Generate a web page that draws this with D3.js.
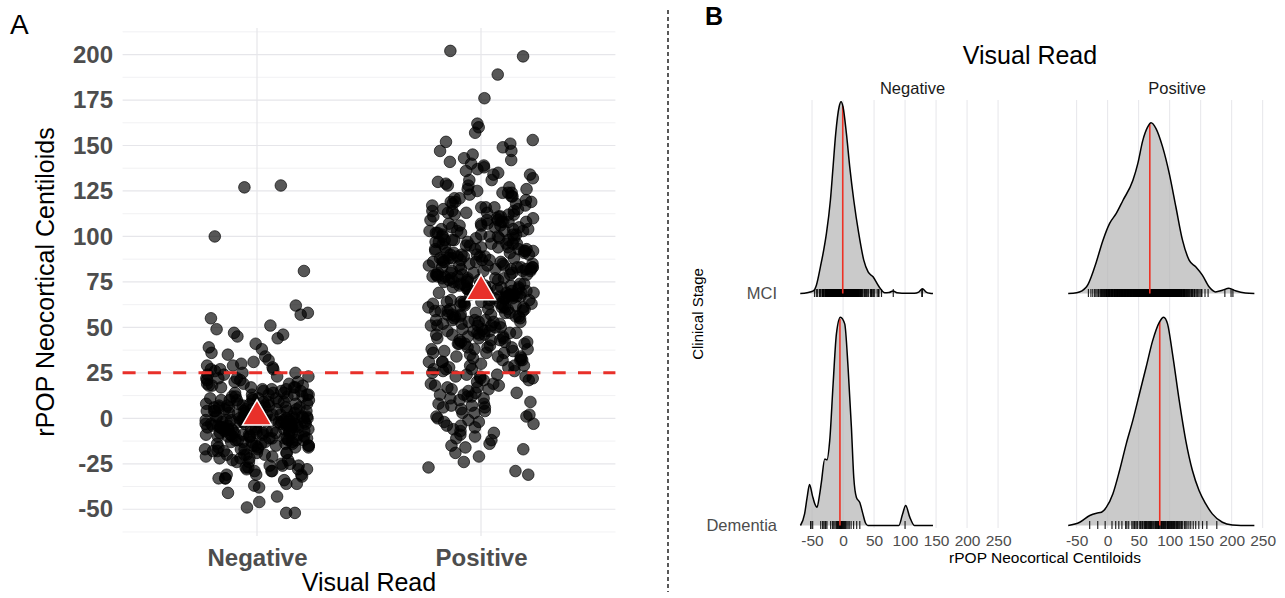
<!DOCTYPE html>
<html>
<head>
<meta charset="utf-8">
<script src="https://cdn.jsdelivr.net/npm/d3@7"></script>
<style>
  body { margin: 0; background: #fff; }
  svg { display: block; }
</style>
</head>
<body>
<script>
var FONT = '"Liberation Sans", Arial, Helvetica, sans-serif';

var categories = ["Negative", "Positive"];
var stages = ["MCI", "Dementia"];
var yTicksA = [-50, -25, 0, 25, 50, 75, 100, 125, 150, 175, 200];
var xTicksB = [-50, 0, 50, 100, 150, 200, 250];
var cutoff = 25;

var negMCI = [-46, -43, -41, -38, -37, -36, -34, -33, -33, -32, -31, -31,
  -29, -29, -28, -28, -27, -27, -26, -26, -25, -25,
  -24, -24, -23, -23, -22, -22, -22, -21, -21, -20, -20, -20,
  -19, -19, -19, -18, -18, -18, -17, -17, -17, -16, -16, -16, -16, -15, -15, -15, -15,
  -14, -14, -14, -14, -13, -13, -13, -13, -12, -12, -12, -12, -12, -11, -11, -11, -11, -10, -10, -10, -10, -10,
  -9, -9, -9, -9, -9, -8, -8, -8, -8, -8, -8, -7, -7, -7, -7, -7, -6, -6, -6, -6, -6, -6, -5, -5, -5, -5, -5,
  -4, -4, -4, -4, -4, -4, -3, -3, -3, -3, -3, -3, -2, -2, -2, -2, -2, -2, -1, -1, -1, -1, -1, -1, 0, 0, 0, 0, 0,
  1, 1, 1, 1, 1, 1, 2, 2, 2, 2, 2, 2, 3, 3, 3, 3, 3, 4, 4, 4, 4, 4, 5, 5, 5, 5, 5,
  6, 6, 6, 6, 6, 7, 7, 7, 7, 7, 8, 8, 8, 8, 9, 9, 9, 9, 10, 10, 10, 10,
  11, 11, 11, 11, 12, 12, 12, 12, 13, 13, 13, 13, 14, 14, 14, 15, 15, 15,
  16, 16, 16, 17, 17, 17, 18, 18, 18, 19, 19, 19, 20, 20,
  21, 21, 22, 22, 23, 23, 24, 24, 25, 25,
  26, 27, 27, 28, 29, 29, 30, 31, 32, 34, 35, 36, 38, 39,
  41, 44, 45, 46, 47, 49, 51, 55, 57, 58, 62, 81, 127, 128];

var negDementia = [-52, -52, -49, -36, -33, -31, -29, -28, -26, -20, -17, -15, -13, -11, -10,
  -9, -8, -7, -6, -5, -5, -4, -3, -3, -2, -1, 0, 1, 2, 3, 4, 6, 8, 10, 13, 17, 22, 27, 100];

var posMCI = [-31, -27, -24, -21, -19, -17, -15, -14, -12, -11, -10, -9, -8, -7, -6, -5, -4, -3, -2, -2, -1, 0,
  1, 1, 2, 3, 3, 4, 5, 6, 6, 7, 8, 8, 9, 10,
  11, 11, 12, 12, 13, 14, 14, 15, 16, 16, 17, 17, 18, 19, 19, 20,
  21, 21, 22, 22, 23, 23, 24, 24, 25, 26, 26, 27, 27, 27, 28, 28, 29, 29, 30,
  31, 31, 32, 32, 32, 33, 33, 34, 34, 35, 36, 36, 36, 37, 37, 38, 38, 38, 39, 39, 40,
  41, 41, 41, 42, 42, 42, 43, 43, 44, 44, 45, 45,
  46, 46, 46, 47, 47, 47, 48, 48, 48, 49, 49, 50, 50,
  51, 51, 51, 52, 52, 52, 53, 53, 53, 54, 54, 54, 55, 55,
  56, 56, 56, 57, 57, 57, 58, 58, 58, 59, 59, 59, 60, 60, 60,
  61, 61, 61, 62, 62, 62, 63, 63, 63, 63, 64, 64, 64, 65, 65, 65,
  66, 66, 66, 67, 67, 67, 67, 68, 68, 68, 69, 69, 69, 69, 70, 70, 70,
  71, 71, 71, 71, 72, 72, 72, 73, 73, 73, 73, 74, 74, 74, 75, 75, 75,
  76, 76, 76, 77, 77, 77, 77, 78, 78, 78, 79, 79, 79, 79, 80, 80, 80,
  81, 81, 81, 82, 82, 82, 83, 83, 83, 83, 84, 84, 84, 85, 85, 85,
  86, 86, 86, 87, 87, 87, 88, 88, 88, 89, 89, 89, 90, 90, 90,
  91, 91, 91, 92, 92, 92, 93, 93, 93, 94, 94, 94, 95, 95,
  96, 96, 96, 97, 97, 98, 98, 98, 99, 99, 100, 100,
  101, 101, 101, 102, 102, 103, 103, 103, 104, 104, 105, 105,
  106, 106, 107, 107, 108, 108, 108, 109, 109, 110, 110,
  111, 111, 112, 112, 113, 113, 114, 114, 115, 115,
  116, 116, 117, 117, 118, 119, 119, 120,
  121, 122, 122, 123, 124, 124, 125,
  126, 127, 128, 129, 130, 131, 132, 134, 135, 136, 137, 139, 140,
  141, 143, 145, 147, 149, 151, 152, 157, 162, 189, 199, 202];

var posDementia = [-29, -16, -4, 7, 13, 18, 23, 29, 31, 34, 39, 41, 43, 44, 46, 48, 51, 53, 54,
  56, 57, 59, 60, 61, 62, 63, 64, 66, 67, 68, 69, 70, 71, 72, 74,
  76, 77, 78, 79, 80, 81, 82, 82, 83, 84, 86, 86, 87, 88, 89, 90, 91, 92, 93, 94, 96, 96, 97, 98, 99,
  100, 101, 102, 103, 104, 105, 106, 107, 108, 109,
  111, 112, 113, 114, 116, 118, 119,
  121, 124, 126, 128, 131, 134,
  138, 142, 147, 153, 160, 176];

// ridge outlines: [centiloid, height in ridge units]
var ridgeNegMCI = [[-69, 0], [-58, 0.003], [-48, 0.011], [-43, 0.036], [-36.5, 0.115], [-31, 0.19],
  [-26.8, 0.259], [-20.4, 0.402], [-16.1, 0.546], [-11.8, 0.69], [-6.4, 0.804], [-3.2, 0.826],
  [0, 0.804], [5.4, 0.69], [10.8, 0.546], [17.3, 0.402], [25.3, 0.259], [33.4, 0.144], [40.4, 0.093],
  [48.4, 0.072], [58.1, 0.029], [67.3, 0.003], [74, 0.004], [80.6, 0.011], [87, 0.003], [95, 0.001],
  [115, 0.001], [122, 0.006], [128, 0.02], [134, 0.006], [140, 0.001], [145, 0]];
var ridgeNegDementia = [[-68.7, 0], [-62, 0.05], [-58, 0.12], [-54, 0.177], [-49.5, 0.13], [-45.6, 0.094],
  [-42, 0.079], [-38, 0.13], [-34.9, 0.187], [-29.5, 0.287], [-26, 0.283], [-21.5, 0.366], [-16, 0.611],
  [-10.7, 0.826], [-4.3, 0.898], [2.7, 0.869], [8.1, 0.681], [13.5, 0.422], [17.3, 0.207], [21.6, 0.121],
  [27, 0.099], [32, 0.05], [36, 0.012], [40, 0], [90, 0], [95.8, 0.047], [101, 0.086], [107.6, 0.036],
  [115, 0], [145, 0]];
var ridgePosMCI = [[-63.6, 0], [-50, 0.003], [-34, 0.029], [-20.8, 0.115], [-7.5, 0.23], [3.2, 0.302],
  [13.9, 0.345], [24.6, 0.401], [40.6, 0.487], [48.6, 0.56], [56.6, 0.659], [64.6, 0.718], [70, 0.736],
  [78, 0.711], [88.6, 0.632], [99.4, 0.517], [110, 0.374], [120.7, 0.23], [131.4, 0.144], [142, 0.115],
  [152.7, 0.079], [163.5, 0.029], [174, 0.007], [185, 0.014], [195.5, 0.023], [206, 0.012], [222, 0.002],
  [236.6, 0]];
var ridgePosDementia = [[-63.6, 0], [-45, 0.014], [-28.8, 0.043], [-18, 0.053], [-10, 0.057], [-2, 0.079],
  [8.5, 0.137], [19.2, 0.237], [30, 0.352], [40.6, 0.453], [51.3, 0.568], [62, 0.682], [72.6, 0.797],
  [83.3, 0.876], [90.3, 0.898], [96.6, 0.869], [104.6, 0.74], [115.4, 0.539], [126, 0.366], [136.7, 0.237],
  [147.4, 0.151], [158, 0.094], [168.8, 0.05], [185, 0.014], [201, 0.002], [215, 0], [236.6, 0]];

var svg = d3.select("body").append("svg")
    .attr("width", 1285)
    .attr("height", 598)
    .attr("font-family", FONT);

drawPanelA();
drawPanelB();

//Separator between the panels
svg.append("line")
    .attr("x1", 668).attr("x2", 668)
    .attr("y1", 10).attr("y2", 592)
    .attr("stroke", "#000")
    .attr("stroke-width", 1.3)
    .attr("stroke-dasharray", "4 3");

// deterministic horizontal spread in [-1, 1], stands in for geom_jitter
function jitter(i, k) {
    var h = (i + 1) * 2654435761 + k * 40503;
    h = (h ^ (h >>> 15)) >>> 0;
    h = Math.imul(h, 2246822519) >>> 0;
    h = (h ^ (h >>> 13)) >>> 0;
    return (h % 10000) / 5000 - 1;
}

function drawPanelA() {
    var left = 122.6, right = 615.4, top = 28, bottom = 536;

    var x = d3.scalePoint().domain(categories).range([left, right]).padding(0.6);
    var y = d3.scaleLinear().domain([-64.7, 214.6]).range([bottom, top]);

    var g = svg.append("g");

    //Minor and major grid
    var minor = yTicksA.map(function (d) { return d - 12.5; }).concat([212.5]);
    g.selectAll(".minor").data(minor).enter().append("line")
        .attr("x1", left).attr("x2", right)
        .attr("y1", function (d) { return y(d); })
        .attr("y2", function (d) { return y(d); })
        .attr("stroke", "#ebebee").attr("stroke-width", 0.7);
    g.selectAll(".major").data(yTicksA).enter().append("line")
        .attr("x1", left).attr("x2", right)
        .attr("y1", function (d) { return y(d); })
        .attr("y2", function (d) { return y(d); })
        .attr("stroke", "#e6e6ea").attr("stroke-width", 1.2);
    g.selectAll(".vmajor").data(categories).enter().append("line")
        .attr("x1", function (d) { return x(d); })
        .attr("x2", function (d) { return x(d); })
        .attr("y1", top).attr("y2", bottom)
        .attr("stroke", "#e6e6ea").attr("stroke-width", 1.2);

    var groups = [
        {cat: "Negative", values: negMCI.concat(negDementia)},
        {cat: "Positive", values: posMCI.concat(posDementia)}
    ];

    //Jittered points
    groups.forEach(function (grp, k) {
        g.append("g").selectAll("circle").data(grp.values).enter().append("circle")
            .attr("cx", function (d, i) { return x(grp.cat) + jitter(i, k) * 0.235 * x.step(); })
            .attr("cy", function (d) { return y(d); })
            .attr("r", 5.8)
            .attr("fill", "#000").attr("fill-opacity", 0.66)
            .attr("stroke", "#000").attr("stroke-opacity", 0.66).attr("stroke-width", 1);
    });

    //Positivity threshold
    g.append("line")
        .attr("x1", left).attr("x2", right)
        .attr("y1", y(cutoff)).attr("y2", y(cutoff))
        .attr("stroke", "#e8302a")
        .attr("stroke-width", 3)
        .attr("stroke-dasharray", "13 12.3");

    //Group means
    var tri = d3.symbol().type(d3.symbolTriangle).size(364);
    groups.forEach(function (grp) {
        g.append("path")
            .attr("d", tri())
            .attr("transform", "translate(" + x(grp.cat) + "," + y(d3.mean(grp.values)) + ")")
            .attr("fill", "#e8302a")
            .attr("stroke", "#fff")
            .attr("stroke-width", 1.5);
    });

    //Axes
    var yAxis = g.append("g")
        .attr("transform", "translate(" + left + ",0)")
        .call(d3.axisLeft(y).tickValues(yTicksA).tickSize(0).tickPadding(9.6).tickFormat(String));
    yAxis.select(".domain").remove();
    yAxis.attr("font-family", FONT);
    yAxis.selectAll("text")
        .attr("font-size", 24).attr("font-weight", "bold").attr("fill", "#4d4d4d");

    var xAxis = g.append("g")
        .attr("transform", "translate(0," + bottom + ")")
        .call(d3.axisBottom(x).tickSize(0).tickPadding(13));
    xAxis.select(".domain").remove();
    xAxis.attr("font-family", FONT);
    xAxis.selectAll("text")
        .attr("font-size", 24).attr("font-weight", "bold").attr("fill", "#4d4d4d");

    g.append("text")
        .attr("x", (left + right) / 2).attr("y", 591)
        .attr("text-anchor", "middle")
        .attr("font-size", 25)
        .attr("fill", "#000")
        .text("Visual Read");

    g.append("text")
        .attr("transform", "translate(54," + (top + bottom) / 2 + ") rotate(-90)")
        .attr("text-anchor", "middle")
        .attr("font-size", 25)
        .attr("fill", "#000")
        .text("rPOP Neocortical Centiloids");

    g.append("text")
        .attr("x", 10).attr("y", 34)
        .attr("font-size", 28)
        .attr("fill", "#000")
        .text("A");
}

function heightAt(curve, v) {
    for (var i = 1; i < curve.length; i++) {
        if (v <= curve[i][0]) {
            var a = curve[i - 1], b = curve[i];
            var t = (v - a[0]) / (b[0] - a[0]);
            return a[1] + t * (b[1] - a[1]);
        }
    }
    return 0;
}

function drawPanelB() {
    var panelWidth = 253, top = 100, bottom = 528;
    var xDomain = [-92, 316];
    var stageLevel = {"Dementia": 1, "MCI": 2};
    var y = d3.scaleLinear().domain([1, 2]).range([525.5, 293.5]);

    var facets = [
        {read: "Negative", x0: 786, groups: [
            {stage: "MCI", values: negMCI, ridge: ridgeNegMCI},
            {stage: "Dementia", values: negDementia, ridge: ridgeNegDementia}]},
        {read: "Positive", x0: 1050.6, groups: [
            {stage: "MCI", values: posMCI, ridge: ridgePosMCI},
            {stage: "Dementia", values: posDementia, ridge: ridgePosDementia}]}
    ];

    facets.forEach(function (f) {
        var x = d3.scaleLinear().domain(xDomain).range([f.x0, f.x0 + panelWidth]);
        var g = svg.append("g");

        g.selectAll(".grid").data(xTicksB).enter().append("line")
            .attr("x1", function (d) { return x(d); })
            .attr("x2", function (d) { return x(d); })
            .attr("y1", top).attr("y2", bottom)
            .attr("stroke", "#e6e6ea").attr("stroke-width", 1);

        //Strip label
        g.append("text")
            .attr("x", f.x0 + panelWidth / 2).attr("y", 94)
            .attr("text-anchor", "middle")
            .attr("font-size", 16.5)
            .attr("fill", "#1a1a1a")
            .text(f.read);

        f.groups.forEach(function (r) {
            var base = stageLevel[r.stage];
            var area = d3.area().curve(d3.curveMonotoneX)
                .x(function (d) { return x(d[0]); })
                .y0(y(base))
                .y1(function (d) { return y(base + d[1]); });
            var line = d3.line().curve(d3.curveMonotoneX)
                .x(function (d) { return x(d[0]); })
                .y(function (d) { return y(base + d[1]); });

            g.append("path").datum(r.ridge)
                .attr("d", area)
                .attr("fill", "#b3b3b3").attr("fill-opacity", 0.7);

            //Rug of the observations
            g.append("g").selectAll("line").data(r.values).enter().append("line")
                .attr("x1", function (d) { return x(d); })
                .attr("x2", function (d) { return x(d); })
                .attr("y1", y(base) - 4.5).attr("y2", y(base) + 3.5)
                .attr("stroke", "#000").attr("stroke-opacity", 0.85).attr("stroke-width", 1.2);

            //Median line
            var med = d3.median(r.values);
            g.append("line")
                .attr("x1", x(med)).attr("x2", x(med))
                .attr("y1", y(base)).attr("y2", y(base + heightAt(r.ridge, med)))
                .attr("stroke", "#ee3124").attr("stroke-width", 1.6);

            g.append("path").datum(r.ridge)
                .attr("d", line)
                .attr("fill", "none")
                .attr("stroke", "#000").attr("stroke-width", 1.5);
        });

        var xAxis = g.append("g")
            .attr("transform", "translate(0," + bottom + ")")
            .call(d3.axisBottom(x).tickValues(xTicksB).tickSize(0).tickPadding(7).tickFormat(String));
        xAxis.select(".domain").remove();
        xAxis.attr("font-family", FONT);
        xAxis.selectAll("text").attr("font-size", 15.5).attr("fill", "#4d4d4d");
    });

    //Stage labels
    svg.append("g").selectAll("text").data(stages).enter().append("text")
        .attr("x", 777)
        .attr("y", function (d) { return y(stageLevel[d]); })
        .attr("dy", "0.36em")
        .attr("text-anchor", "end")
        .attr("font-size", 16.5)
        .attr("fill", "#4d4d4d")
        .text(function (d) { return d; });

    svg.append("text")
        .attr("transform", "translate(703," + (top + bottom) / 2 + ") rotate(-90)")
        .attr("text-anchor", "middle")
        .attr("font-size", 15)
        .attr("fill", "#000")
        .text("Clinical Stage");

    svg.append("text")
        .attr("x", 1045).attr("y", 563)
        .attr("text-anchor", "middle")
        .attr("font-size", 15.5)
        .attr("fill", "#000")
        .text("rPOP Neocortical Centiloids");

    svg.append("text")
        .attr("x", 1030).attr("y", 64)
        .attr("text-anchor", "middle")
        .attr("font-size", 25)
        .attr("fill", "#000")
        .text("Visual Read");

    svg.append("text")
        .attr("x", 705).attr("y", 25)
        .attr("font-size", 25)
        .attr("font-weight", "bold")
        .attr("fill", "#000")
        .text("B");
}
</script>
</body>
</html>
